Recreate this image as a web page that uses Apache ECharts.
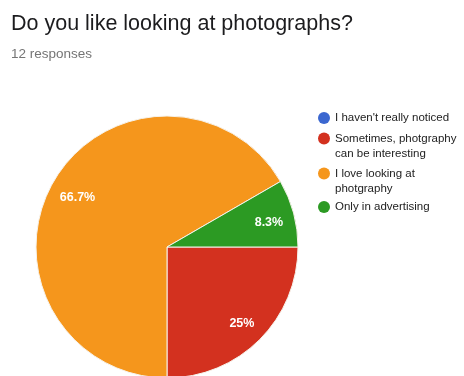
<!DOCTYPE html>
<html>
<head>
<meta charset="utf-8">
<script src="https://cdn.jsdelivr.net/npm/echarts@6/dist/echarts.min.js"></script>
<style>
    html, body { margin: 0; padding: 0; background: #fff; }
    #chart { width: 464px; height: 376px; }
</style>
</head>
<body>
<div id="chart"></div>
<script>
// answers and counts (12 responses)
var answers = ['I haven\'t really noticed', 'Sometimes, photgraphy can be interesting', 'I love looking at photgraphy', 'Only in advertising']
var counts = [0, 3, 8, 1]
var colors = ['#3b67d0', '#d3311f', '#f5961c', '#2c9a23']
// legend text: first line next to the marker, optional second line below
var legendFirst = ['I haven\'t really noticed', 'Sometimes, photgraphy', 'I love looking at', 'Only in advertising']
var legendSecond = ['', 'can be interesting', 'photgraphy', '']
var legendRowY = [118, 138.5, 173.5, 207]

var chart = echarts.init(document.getElementById('chart'))
var center = [167, 247]
var font = 'Liberation Sans'

// one legend per answer so the marker lines up with the first text line
var legends = answers.map(function (name, i) {
    return {
        orient: 'vertical',
        left: 318,
        top: legendRowY[i] - 6,
        padding: 0,
        icon: 'circle',
        itemWidth: 12,
        itemHeight: 12,
        itemStyle: { borderWidth: 0 },
        data: [name],
        formatter: function () { return legendFirst[i] },
        textStyle: { fontFamily: font, fontSize: 11.5, color: '#222', padding: [0, 0, 0, 0] }
    }
})
var secondLines = []
answers.forEach(function (name, i) {
    if (legendSecond[i]) {
        secondLines.push({
            type: 'text',
            left: 335,
            top: legendRowY[i] + 16.5 - 7,
            style: { text: legendSecond[i], font: '11.5px "' + font + '"', fill: '#222' }
        })
    }
})

var option = {
    animation: false,
    title: [{
        text: 'Do you like looking at photographs?',
        left: 6,
        top: 8,
        textStyle: { fontFamily: font, fontSize: 21.5, fontWeight: 'normal', color: '#1c1c1e' }
    }, {
        text: '12 responses',
        left: 6,
        top: 42,
        textStyle: { fontFamily: font, fontSize: 13.5, fontWeight: 'normal', color: '#757575' }
    }],
    legend: legends,
    graphic: secondLines,
    series: [{
        type: 'pie',
        center: center,
        radius: 131,
        startAngle: 0,
        clockwise: true,
        silent: true,
        label: { show: false },
        labelLine: { show: false },
        itemStyle: { borderColor: '#f6f2ea', borderWidth: 1 },
        data: answers.map(function (name, i) {
            return { name: name, value: counts[i], itemStyle: { color: colors[i] } }
        })
    }, {
        // transparent ring only used to place the percent labels
        type: 'pie',
        center: center,
        radius: [72, 131],
        startAngle: 0,
        clockwise: true,
        silent: true,
        itemStyle: { color: 'rgba(0,0,0,0)' },
        label: {
            position: 'inside',
            offset: [1, 3],
            fontFamily: font,
            fontSize: 12.5,
            fontWeight: 'bold',
            color: '#fff',
            formatter: function (p) {
                return p.value > 0 ? p.percent + '%' : ''
            }
        },
        percentPrecision: 1,
        labelLine: { show: false },
        data: answers.map(function (name, i) { return { name: name, value: counts[i] } })
    }]
}
chart.setOption(option)
</script>
</body>
</html>
